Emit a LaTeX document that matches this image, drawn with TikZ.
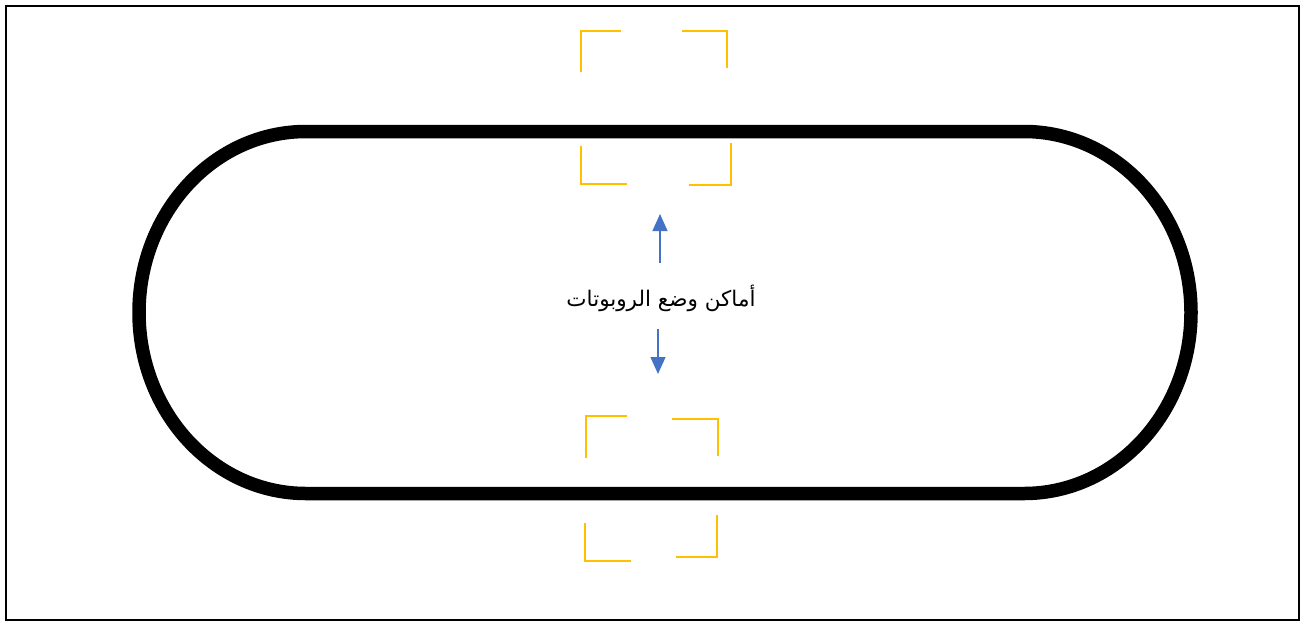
\documentclass[tikz,border=0pt]{standalone}
\usepackage{fontspec}
\newfontfamily\arabicfont[Script=Arabic]{DejaVu Sans}
\TeXXeTstate=1
\usetikzlibrary{arrows.meta}
\definecolor{bracketc}{HTML}{FFC000}
\definecolor{arrowc}{HTML}{4472C4}
\tikzset{
  bracket/.style={draw=bracketc, line width=2pt, line cap=rect},
  track/.style={draw=black, line width=13.5pt},
  frame/.style={draw=black, line width=2pt},
  bluearrow/.style={draw=arrowc, line width=1.2pt, -{Triangle[width=15pt,length=17pt]}},
  lbl/.style={font=\arabicfont\fontsize{21.5}{24}\selectfont, inner sep=0pt}
}
\begin{document}
\begin{tikzpicture}[x=1pt,y=-1pt]
\useasboundingbox (0,0) rectangle (1303,622);
\draw[frame] (6,6) rectangle (1299,620);
% track
\draw[track] (306,131.5) -- (1024,131.5)
  arc[start angle=-90, end angle=90, x radius=167, y radius=181]
  -- (306,493.5)
  arc[start angle=90, end angle=270, x radius=167, y radius=181]
  -- cycle;
% top brackets (above track)
\draw[bracket] (581,71) -- (581,31) -- (620,31);
\draw[bracket] (683,31) -- (727,31) -- (727,67);
% top brackets (below track)
\draw[bracket] (581,147) -- (581,184) -- (626,184);
\draw[bracket] (690,184.5) -- (730.5,184.5) -- (730.5,144);
% bottom brackets (above track)
\draw[bracket] (586,457) -- (586,416) -- (626,416);
\draw[bracket] (673,419) -- (718,419) -- (718,455);
% bottom brackets (below track)
\draw[bracket] (585,524) -- (585,561) -- (630,561);
\draw[bracket] (677,557) -- (717,557) -- (717,516);
% label and arrows
\node[lbl] (label) at (661,298) {\beginR أماكن وضع الروبوتات\endR};
\coordinate (upstart) at (660,263);
\coordinate (uptip) at (660,214);
\coordinate (downstart) at (658,329);
\coordinate (downtip) at (658,374);
\draw[bluearrow] (upstart) -- (uptip);
\draw[bluearrow] (downstart) -- (downtip);
\end{tikzpicture}
\end{document}
